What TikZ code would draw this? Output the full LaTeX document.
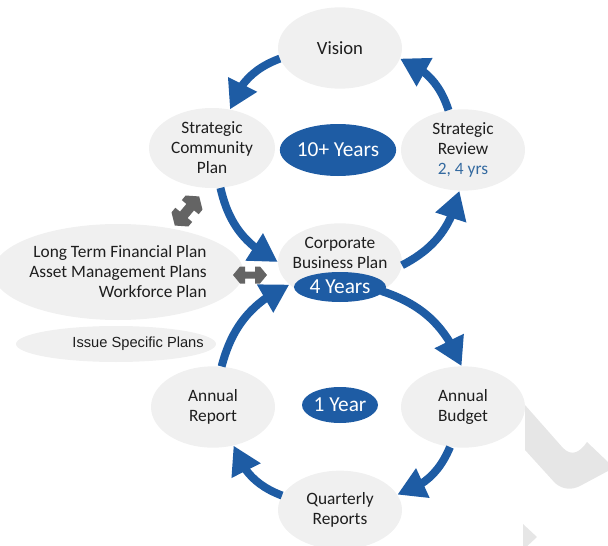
\documentclass[tikz,border=0pt]{standalone}
\usepackage{fontspec}
\setmainfont{Carlito}
\newfontfamily\arialf{Liberation Sans}
\usetikzlibrary{shapes.geometric,arrows.meta,bending}
\definecolor{cblue}{RGB}{30,92,164}
\definecolor{cgray}{RGB}{240,240,240}
\definecolor{dgray}{RGB}{100,100,100}
\definecolor{wm}{RGB}{230,230,230}
\definecolor{lblue}{RGB}{52,106,160}
\definecolor{tcol}{RGB}{30,30,30}
\begin{document}
\begin{tikzpicture}[x=0.75pt,y=-0.75pt,
  bub/.style={ellipse,fill=cgray,inner sep=0pt,minimum width=93pt,minimum height=61pt,align=center,text=tcol,font=\fontsize{13}{15}\selectfont},
  term/.style={ellipse,fill=cblue,text=white,inner sep=0pt,font=\fontsize{16}{18}\selectfont},
  txt/.style={inner sep=0pt,align=center,text=tcol,font=\fontsize{13}{15}\selectfont},
  flow/.style={draw=cblue,line width=6pt,-{Triangle[length=21pt,width=23pt,flex]}},
  dblarrow/.style={fill=dgray}]
\useasboundingbox (0,0) rectangle (608,546);
% watermark
\fill[wm] (525,405) -- (563,448) .. controls (572,457) and (580,452) .. (587,442)
  -- (608,462) -- (608,471) -- (580,486) .. controls (572,490) and (563,490) .. (555,483) -- (525,450) -- cycle;
\fill[wm] (523,524) -- (537,537) -- (523,550) -- cycle;
% nodes
\node[bub,font=\fontsize{14}{16}\selectfont] (vis) at (340,48) {Vision};
\node[bub,minimum width=94.5pt,minimum height=60pt] (scp) at (212,148) {Strategic\\Community\\Plan};
\node[bub] (sr) at (463,150) {Strategic\\Review\\\textcolor{lblue}{2, 4 yrs}};
\node[term,minimum width=78pt,minimum height=39pt] (ten) at (338,150) {10+ Years};
\node[bub,minimum height=58pt] (cbp) at (340,262) {};
\node[txt] (cbpt) at (340,253) {Corporate\\Business Plan};
\node[term,minimum width=69pt,minimum height=22.5pt] (four) at (340,287) {4 Years};
\node[bub,minimum width=166.5pt,minimum height=72pt,align=right] (ltf) at (118,272) {Long Term Financial Plan\\Asset Management Plans\\Workforce Plan};
\node[ellipse,fill=cgray,inner sep=0pt,minimum width=150pt,minimum height=27pt] (iss) at (116,344) {};
\node[inner sep=0pt,anchor=east,text=tcol,font=\arialf\fontsize{11}{13}\selectfont] (isst) at (204,344) {Issue Specific Plans};
\node[bub] (ar) at (213,407) {Annual\\Report};
\node[term,minimum width=57pt,minimum height=27pt] (one) at (340,405) {1 Year};
\node[bub] (ab) at (463,407) {Annual\\Budget};
\node[bub,minimum height=59pt] (qr) at (340,510) {Quarterly\\Reports};
% gray double arrows
\begin{scope}[shift={(250,275)}]
\fill[dblarrow] (-17,0) -- (-10,-8.5) -- (-5,-8.5) -- (-5,-3.5) -- (5,-3.5) -- (5,-8.5) -- (10,-8.5) -- (17,0)
  -- (10,8.5) -- (5,8.5) -- (5,3.5) -- (-5,3.5) -- (-5,8.5) -- (-10,8.5) -- cycle;
\end{scope}
\begin{scope}[shift={(187,211)},rotate=50]
\fill[dblarrow] (-19,0) -- (-11,-11) -- (-5,-11) -- (-5,-5) -- (5,-5) -- (5,-11) -- (11,-11) -- (19,0)
  -- (11,11) -- (5,11) -- (5,5) -- (-5,5) -- (-5,11) -- (-11,11) -- cycle;
\end{scope}
% blue arrows
\draw[flow] (vis.190) to[bend right=25] (scp.65);
\draw[flow] (sr.110) to[bend right=25] (vis.-10);
\draw[flow] (scp.-78) to[bend right=25] (cbp.180);
\draw[flow] (cbp.-3) to[bend right=25] (sr.265);
\draw[flow] (cbp.-35) to[bend left=25] (ab.92);
\draw[flow] (ab.252) to[bend left=25] (qr.15);
\draw[flow] (qr.166) to[bend left=25] (ar.-62);
\draw[flow] (ar.78) to[bend left=25] (cbp.204);
\end{tikzpicture}
\end{document}
